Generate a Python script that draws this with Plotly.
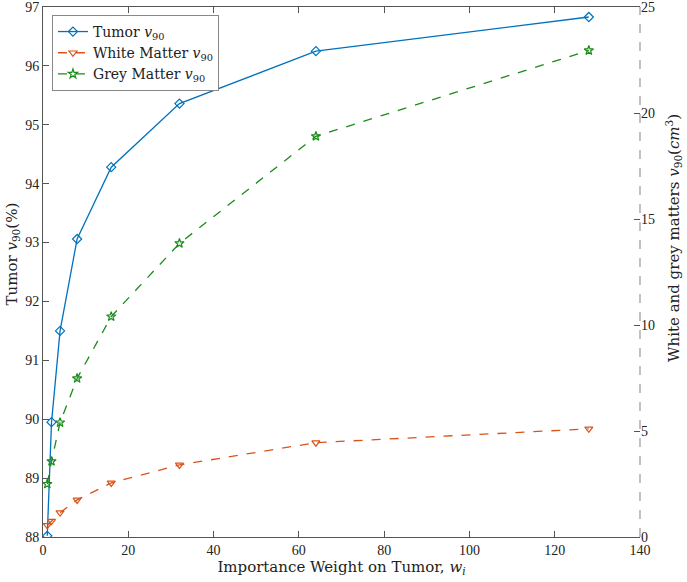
import plotly.graph_objects as go

# importance weight on tumour
weights = [1, 2, 4, 8, 16, 32, 64, 128]
# tumour v90 (%), left axis
tumor_v90 = [88.02, 89.95, 91.50, 93.06, 94.28, 95.36, 96.25, 96.83]
# white / grey matter v90 (cm^3), right axis
white_v90 = [0.55, 0.75, 1.15, 1.75, 2.55, 3.40, 4.45, 5.10]
grey_v90 = [2.50, 3.57, 5.40, 7.48, 10.40, 13.85, 18.90, 22.95]

x_ticks = [0, 20, 40, 60, 80, 100, 120, 140]
left_ticks = [88, 89, 90, 91, 92, 93, 94, 95, 96, 97]
right_ticks = [0, 5, 10, 15, 20, 25]

FONT = "Liberation Serif, DejaVu Serif, serif"
WIDE = "DejaVu Serif, serif"
BLUE = "#0072BD"
ORANGE = "#D95319"
GREEN = "#1a8c1a"
AXIS = "#555555"

fig = go.Figure()
fig.add_trace(go.Scatter(x=weights, y=tumor_v90, mode="lines+markers",
                         name="Tumor <i>v</i><sub>90</sub>",
                         line=dict(color=BLUE, width=1.3),
                         marker=dict(symbol="diamond-open", size=7, color=BLUE, line=dict(width=1.2))))
fig.add_trace(go.Scatter(x=weights, y=white_v90, mode="lines+markers", yaxis="y2",
                         name="White Matter <i>v</i><sub>90</sub>",
                         line=dict(color=ORANGE, width=1.3, dash="dash"),
                         marker=dict(symbol="triangle-down-open", size=7, color=ORANGE, line=dict(width=1.2))))
fig.add_trace(go.Scatter(x=weights, y=grey_v90, mode="lines+markers", yaxis="y2",
                         name="Grey Matter <i>v</i><sub>90</sub>",
                         line=dict(color=GREEN, width=1.3, dash="dash"),
                         marker=dict(symbol="star-open", size=7, color=GREEN, line=dict(width=1.2))))

# dashed right-hand axis line
fig.add_shape(type="line", xref="paper", yref="paper", x0=1, x1=1, y0=0, y1=1,
              line=dict(color="#999999", width=1.2, dash="dash"))

# y-axis titles placed like the original (slightly above centre)
fig.add_annotation(text="Tumor <i>v</i><sub>90</sub>(%)", xref="paper", yref="paper",
                   x=-0.052, y=0.535, textangle=-90, showarrow=False,
                   xanchor="center", yanchor="middle", font=dict(family=WIDE, size=15))
fig.add_annotation(text="White and grey matters <i>v</i><sub>90</sub>(<i>cm</i><sup>3</sup>)",
                   xref="paper", yref="paper", x=1.055, y=0.564, textangle=-90, showarrow=False,
                   xanchor="center", yanchor="middle", font=dict(family=WIDE, size=15))

fig.update_layout(
    width=687, height=582,
    margin=dict(l=43, r=47, t=7, b=45),
    paper_bgcolor="white", plot_bgcolor="white",
    font=dict(family=FONT, size=14, color="#222222"),
    xaxis=dict(range=[0, 140], tickvals=x_ticks, showgrid=False, zeroline=False,
               showline=True, linecolor=AXIS, linewidth=1, mirror="ticks",
               ticks="inside", ticklen=6, tickcolor=AXIS, automargin=False,
               title=dict(text="Importance Weight on Tumor, <i>w<sub>i</sub></i>", standoff=2,
                          font=dict(family=WIDE, size=15))),
    yaxis=dict(range=[88, 97], tickvals=left_ticks, showgrid=False, zeroline=False,
               showline=True, linecolor=AXIS, linewidth=1, automargin=False,
               ticks="inside", ticklen=6, tickcolor=AXIS, ticklabeloverflow="allow"),
    yaxis2=dict(range=[0, 25], tickvals=right_ticks, overlaying="y", side="right",
                showgrid=False, zeroline=False, showline=False, automargin=False,
                ticks="inside", ticklen=6, tickcolor=AXIS, ticklabeloverflow="allow"),
    legend=dict(x=0.015, y=0.985, xanchor="left", yanchor="top",
                bgcolor="white", bordercolor="#888888", borderwidth=1,
                font=dict(family=WIDE, size=14), tracegroupgap=0, itemwidth=30),
    showlegend=True,
)

fig.write_html("out.html", config={"displayModeBar": False},
               post_script="document.body.style.margin='0px';")
